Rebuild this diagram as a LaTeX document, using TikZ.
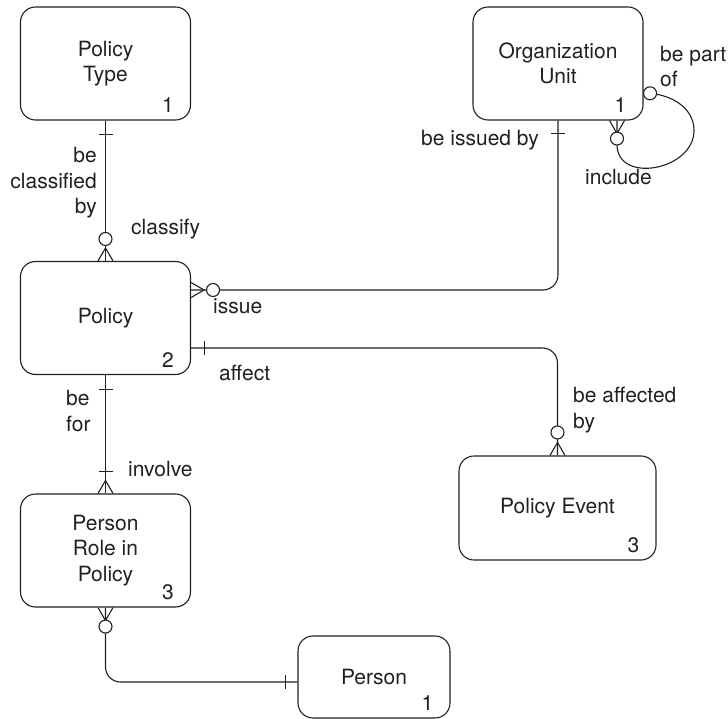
\documentclass[tikz,border=0pt]{standalone}
\usepackage{fontspec}
\setmainfont{TeX Gyre Heros}
\usetikzlibrary{calc,decorations.markings}
\definecolor{ink}{RGB}{35,31,32}
\newcommand\erfont{\fontsize{21}{25.5}\selectfont}

\tikzset{
  erline/.style={draw=ink,line width=1.1pt},
  tick/.style={postaction={decorate,decoration={markings,
    mark=at position #1 with {\draw[erline,sharp corners] (0pt,-7pt) -- (0pt,7pt);}}}},
  ring/.style={postaction={decorate,decoration={markings,
    mark=at position #1 with {\draw[erline,fill=white] (0pt,0pt) circle (6.5pt);}}}},
  crowstart/.style={postaction={decorate,decoration={markings,
    mark=at position 13pt with {\draw[erline,sharp corners] (-13pt,7.5pt) -- (0pt,0pt) -- (-13pt,-7.5pt);}}}},
  crowend/.style={postaction={decorate,decoration={markings,
    mark=at position -13pt with {\draw[erline,sharp corners] (13pt,7.5pt) -- (0pt,0pt) -- (13pt,-7.5pt);}}}},
}

\begin{document}
\begin{tikzpicture}[x=1pt,y=1pt,
    entity/.style={erline,rounded corners=15pt,align=center,inner sep=0pt,font=\erfont,text=ink},
    rel/.style={inner sep=0pt,font=\erfont,text=ink},
    num/.style={rel,anchor=base east}]
  \useasboundingbox (0,0) rectangle (728,-719);
  \node[entity,minimum width=170pt,minimum height=113pt] (ptype) at (105.5,-63.5) {Policy\\Type};
  \node[entity,minimum width=170pt,minimum height=113pt] (org) at (558,-63.5) {Organization\\Unit};
  \node[entity,minimum width=170pt,minimum height=113pt] (policy) at (105.5,-318) {Policy};
  \node[entity,minimum width=170pt,minimum height=113pt] (prole) at (105.5,-550.5) {Person\\Role in\\Policy};
  \node[entity,minimum width=197pt,minimum height=104pt] (event) at (557.5,-508) {Policy Event};
  \node[entity,minimum width=152pt,minimum height=82pt] (person) at (374,-677) {Person};
  \foreach \e/\n in {ptype/1,org/1,policy/2,prole/3,event/3,person/1}
    \node[num] (\e-n) at ($(\e.south east)+(-17,8)$) {\n};

  \draw[erline,tick=14pt,ring=-22pt,crowend] (ptype.south) -- (policy.north);
  \draw[erline,rounded corners=15pt,tick=13pt,ring=-22pt,crowend] (org.south) |- ([yshift=28pt]policy.east);
  \draw[erline,rounded corners=15pt,tick=13pt,ring=-23pt,crowend] ([yshift=-30pt]policy.east) -| (event.north);
  \draw[erline,tick=14pt,tick=-22pt,crowend] (policy.south) -- (prole.north);
  \draw[erline,rounded corners=15pt,crowstart,ring=19pt,tick=-12pt] (prole.south) |- ([yshift=-5pt]person.west);
  \draw[erline,crowstart,ring=18pt,ring=-6.5pt] ([xshift=59pt]org.south) -- ++(0,-24)
    to[out=-90,in=-90,looseness=1.3] ++(77,14) to[out=90,in=0] ([yshift=-29.5pt]org.east);

  \node[rel,align=right,anchor=base east] (l-classd) at (97,-214) {be\\classified\\by};
  \node[rel,anchor=base west] (l-classify) at (131,-235) {classify};
  \node[rel,anchor=base east] (l-issuedby) at (539,-146) {be issued by};
  \node[rel,anchor=base west] (l-issue) at (213,-313) {issue};
  \node[rel,anchor=base west] (l-affect) at (219,-380) {affect};
  \node[rel,align=left,anchor=base west] (l-affd) at (573,-428) {be affected\\by};
  \node[rel,align=left,anchor=base west] (l-befor) at (66,-431) {be\\for};
  \node[rel,anchor=base west] (l-involve) at (128,-476) {involve};
  \node[rel,align=left,anchor=base west] (l-partof) at (660,-87) {be part\\of};
  \node[rel,anchor=base west] (l-include) at (585,-185) {include};
\end{tikzpicture}
\end{document}
